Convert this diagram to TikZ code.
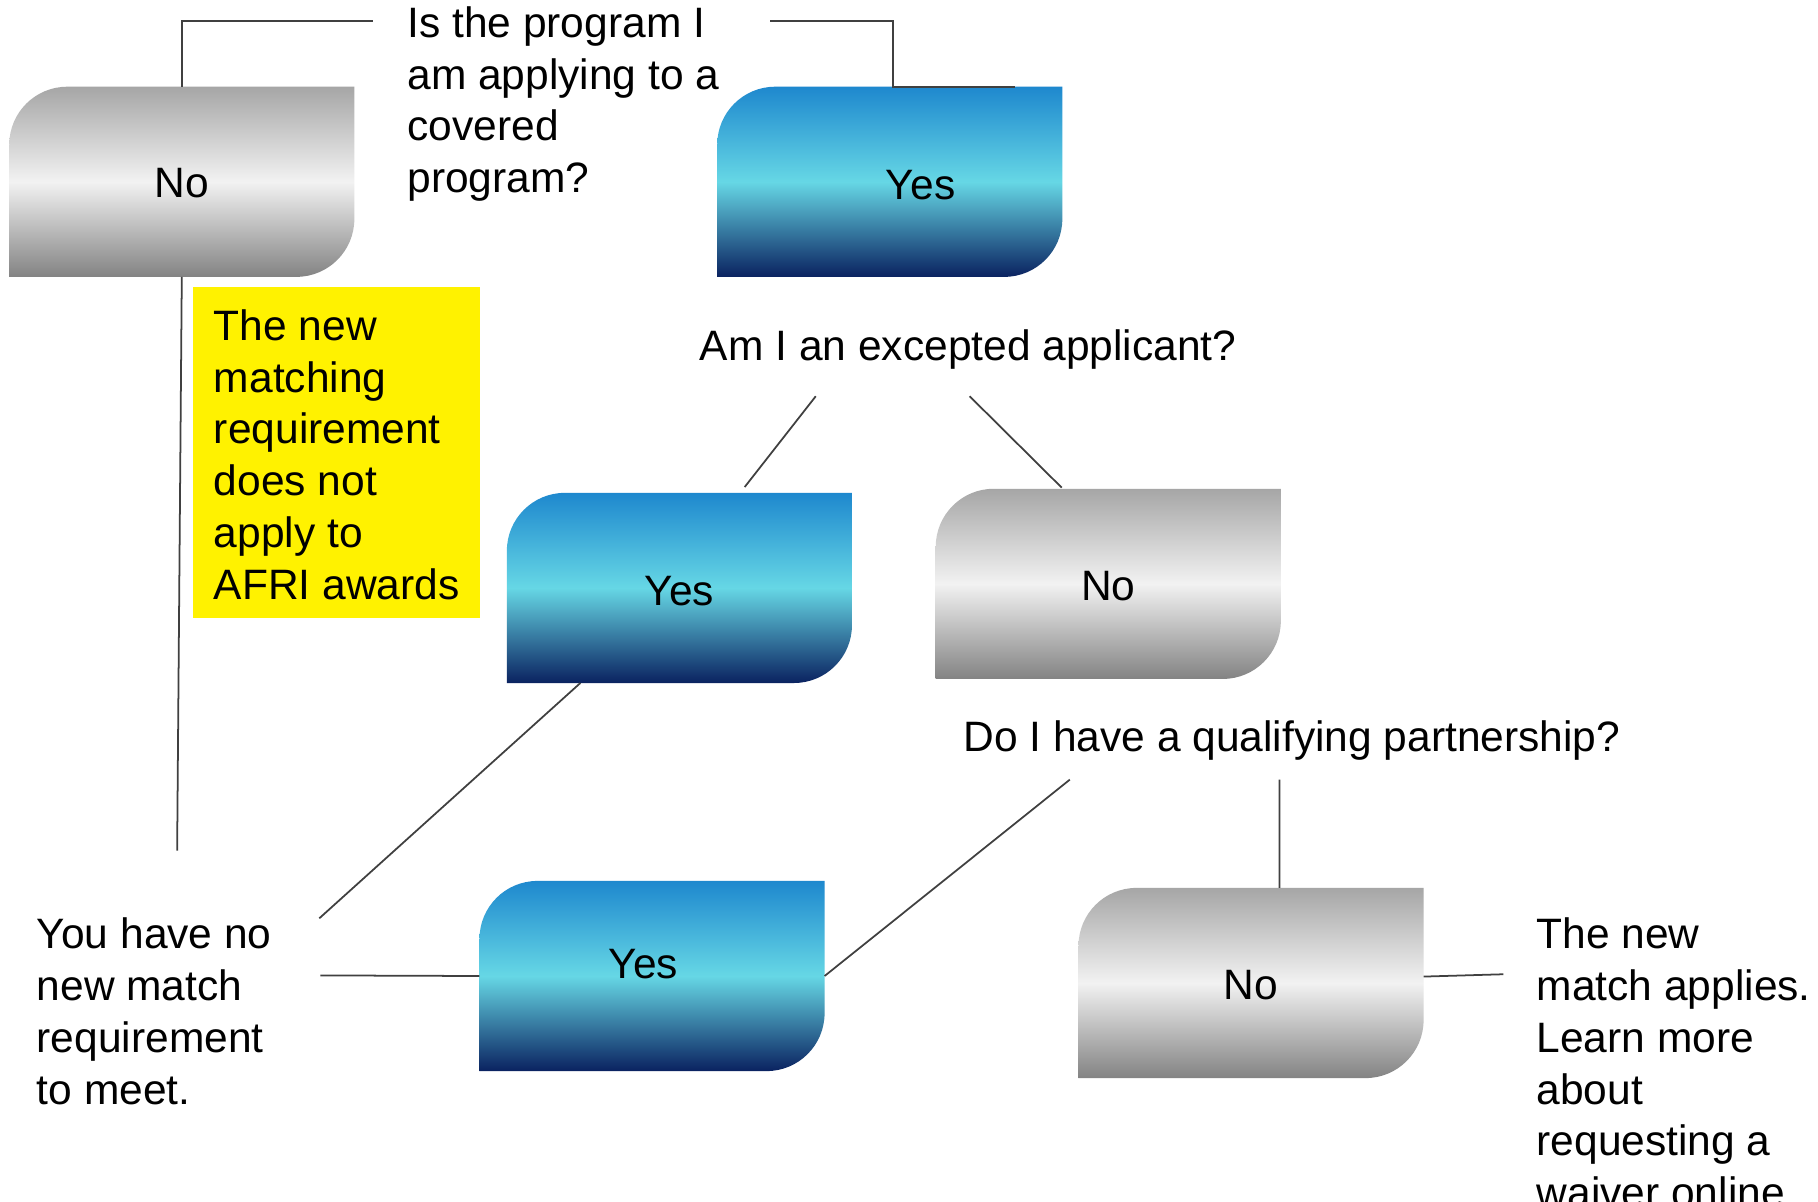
\documentclass[tikz,border=0pt]{standalone}
\usepackage{fontspec}
\setmainfont{Liberation Sans}
\usetikzlibrary{calc}
\definecolor{gtop}{HTML}{A6A6A6}
\definecolor{gmid}{HTML}{F2F2F2}
\definecolor{gbot}{HTML}{838383}
\definecolor{btop}{HTML}{1E88CE}
\definecolor{bmid}{HTML}{66D7E5}
\definecolor{bbot}{HTML}{0A2260}
\definecolor{linec}{HTML}{404040}
\pgfdeclareverticalshading{grayshade}{100bp}{color(0bp)=(gbot); color(25bp)=(gbot); color(50bp)=(gmid); color(75bp)=(gtop); color(100bp)=(gtop)}
\pgfdeclareverticalshading{blueshade}{100bp}{color(0bp)=(bbot); color(25bp)=(bbot); color(50bp)=(bmid); color(75bp)=(btop); color(100bp)=(btop)}
\def\boxr{0.58cm}
\newcommand\flowbox[5]{%
  \node[boxnode] (#1) at (#2) {};
  \shade[shading=#3] (#1.south west) -- ([yshift=-\boxr]#1.north west)
    arc[start angle=180,end angle=90,radius=\boxr] -- (#1.north east)
    -- ([yshift=\boxr]#1.south east) arc[start angle=0,end angle=-90,radius=\boxr] -- cycle;
  \node[boxlabel] (#1-t) at ([shift={(#5)}]#1.center) {#4};
}
\begin{document}
\begin{tikzpicture}[x=0.011654cm, y=-0.011654cm,
  txt/.style={font=\fontsize{12.1}{14.75}\selectfont, inner sep=0pt, align=left, text=black},
  boxnode/.style={minimum width=3.438cm, minimum height=1.888cm, inner sep=0pt, draw=none},
  boxlabel/.style={font=\fontsize{12.1}{14.75}\selectfont, inner sep=0pt, text=black},
  conn/.style={draw=linec, line width=0.5pt}]
\useasboundingbox[fill=white] (0,0) rectangle (1560,1030.6);

% boxes
\flowbox{no1}{156,156}{grayshade}{No}{0,1}
\flowbox{yes1}{763.5,156}{blueshade}{Yes}{26.5,3}
\flowbox{yes2}{583,504.5}{blueshade}{Yes}{0,2.5}
\flowbox{no2}{951,501}{grayshade}{No}{0,2}
\flowbox{yes3}{559.5,837.5}{blueshade}{Yes}{-7.5,-10.5}
\flowbox{no3}{1073.5,843.5}{grayshade}{No}{0,1.5}

% yellow note
\node[fill=yellow, minimum width=2.867cm, minimum height=3.310cm, inner sep=0pt] (notebox) at (289,388) {};
\node[txt, anchor=north west] (note) at (183,265) {The new\\matching\\requirement\\does not\\apply to\\AFRI awards};

% texts
\node[txt, anchor=north west] (q1) at (349,5) {Is the program I\\am applying to a\\covered\\program?};
\node[txt, anchor=north west] (q2) at (600,282) {Am I an excepted applicant?};
\node[txt, anchor=north west] (q3) at (826,618) {Do I have a qualifying partnership?};
\node[txt, anchor=north west] (res1) at (31,787) {You have no\\new match\\requirement\\to meet.};
\node[txt, anchor=north west] (res2) at (1318,787) {The new\\match applies.\\Learn more\\about\\requesting a\\waiver online};

% connector ends
\coordinate (q1l) at (320,18);
\coordinate (q1r) at (661,18);
\coordinate (r1t) at (152,730);
\coordinate (q2a) at (700,340);
\coordinate (q2b) at (832,340);
\coordinate (r1a) at (274,788);
\coordinate (r1b) at (275,837);
\coordinate (q3a) at (918,669);
\coordinate (q3b) at (1098,669);
\coordinate (r2l) at (1290,836);

% connectors
\draw[conn] (q1l) -| (no1.north);
\draw[conn] (q1r) -| ([shift={(2.5,0)}]yes1.north) -- ([shift={(107.5,0)}]yes1.north);
\draw[conn] (no1.south) -- (r1t);
\draw[conn] (q2a) -- ([shift={(56,-5)}]yes2.north);
\draw[conn] (q2b) -- ([shift={(-40,-1)}]no2.north);
\draw[conn] ([shift={(-85,0)}]yes2.south) -- (r1a);
\draw[conn] (r1b) -- (yes3.west);
\draw[conn] (q3a) -- (yes3.east);
\draw[conn] (q3b) -- ([shift={(24.5,0)}]no3.north);
\draw[conn] ([shift={(0,-5.5)}]no3.east) -- (r2l);
\end{tikzpicture}
\end{document}
